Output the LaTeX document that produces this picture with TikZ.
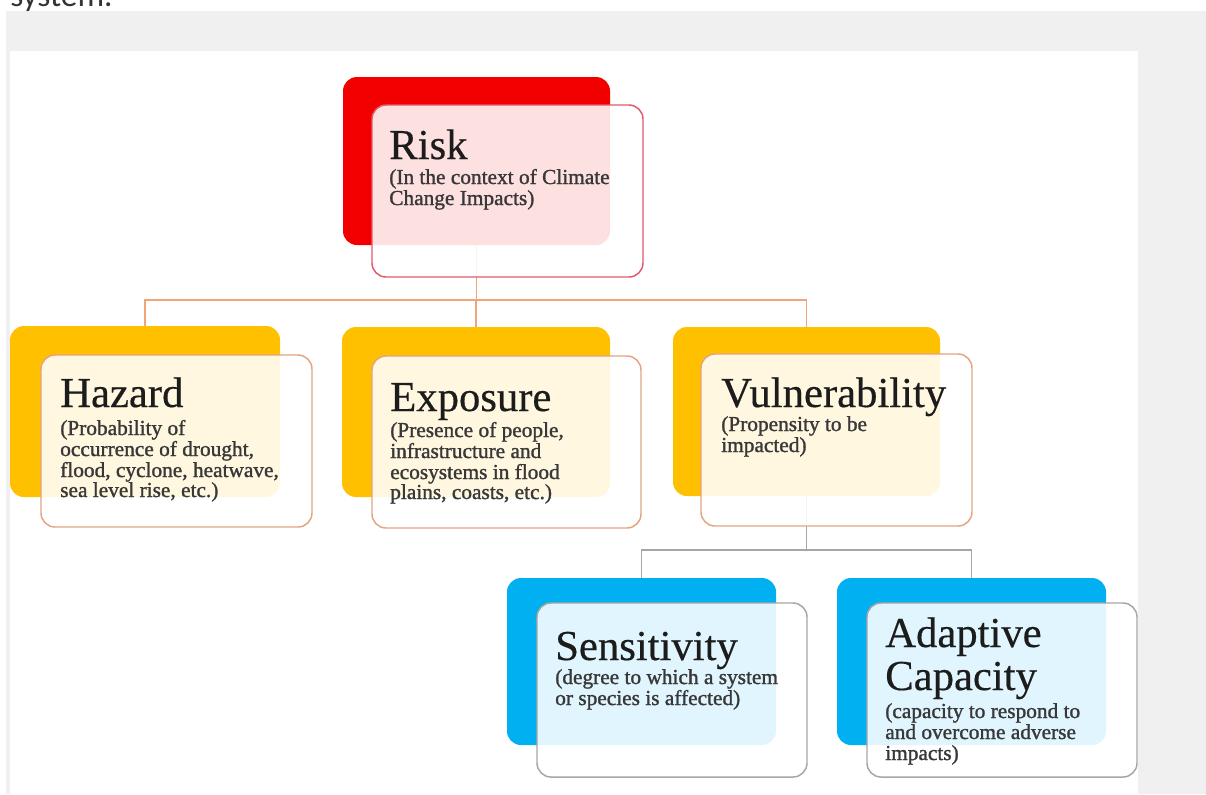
\documentclass[tikz,border=0pt]{standalone}
\usepackage{fontspec}
\setmainfont{Liberation Serif}
\newfontfamily\subfont[FakeBold=1.3]{Liberation Serif}
\newfontfamily\ttlfont[FakeBold=0.4]{Liberation Serif}
\newfontfamily\sysfont{Carlito}
\usetikzlibrary{fit}
\definecolor{riskred}{HTML}{F20000}
\definecolor{gold}{HTML}{FFC000}
\definecolor{skyblue}{HTML}{00B0F0}
\definecolor{riskedge}{HTML}{E05A6A}
\definecolor{goldedge}{HTML}{E3A47F}
\definecolor{grayedge}{HTML}{A6A6A6}
\definecolor{connorange}{HTML}{F0A478}
\definecolor{conngray}{HTML}{A6A6A6}
\definecolor{pagegray}{HTML}{F0F0F0}
\definecolor{titlecol}{HTML}{1C1C1C}
\definecolor{subcol}{HTML}{383838}
\tikzset{
  backbox/.style={inner sep=0pt, rounded corners=10.5pt, draw=none},
  frontbox/.style={inner sep=0pt, rounded corners=10.5pt, fill=white, fill opacity=0.88, line width=1.1pt},
  conn/.style={line width=1.2pt},
  ttl/.style={anchor=base west, inner sep=0pt, text=titlecol, font=\ttlfont\fontsize{32}{32}\selectfont},
  sub/.style={anchor=base west, inner sep=0pt, text=subcol, font=\subfont\fontsize{16}{16}\selectfont},
}
\begin{document}
\begin{tikzpicture}[x=0.75pt,y=-0.75pt]
\useasboundingbox (0,0) rectangle (1206,794);
\clip (0,0) rectangle (1206,794);
% page background
\node[anchor=base west, inner sep=0pt, text=black!80, font=\sysfont\fontsize{25}{25}\selectfont] (sys) at (10,6) {system.};
\fill[pagegray] (6,11) rectangle (1206,794);
\fill[white] (10,51) rectangle (1138,794);

% back boxes
\node[backbox, fill=riskred, fit={(343,77) (610,245)}] (riskB) {};
\node[backbox, fill=gold, fit={(10,326) (280,497)}] (hazB) {};
\node[backbox, fill=gold, fit={(342,327) (610,497)}] (expB) {};
\node[backbox, fill=gold, fit={(673,327) (940,496)}] (vulB) {};
\node[backbox, fill=skyblue, fit={(507,578) (776,745)}] (senB) {};
\node[backbox, fill=skyblue, fit={(837,578) (1106,745)}] (adaB) {};

% connectors
\draw[conn, connorange] (riskB.south) -- ++(0,55) coordinate (j1) -| (hazB.north);
\draw[conn, connorange] (j1) -| (expB.north);
\draw[conn, connorange] (j1) -| (vulB.north);
\draw[conn, conngray] (vulB.south) -- ++(0,54) coordinate (j2) -| (senB.north);
\draw[conn, conngray] (j2) -| (adaB.north);

% front boxes
\node[frontbox, draw=riskedge, fit={(372,105) (643,277)}] (riskF) {};
\node[frontbox, draw=goldedge, fit={(41,355) (312,527)}] (hazF) {};
\node[frontbox, draw=goldedge, fit={(372,356) (641,528)}] (expF) {};
\node[frontbox, draw=goldedge, fit={(701,354) (972,526)}] (vulF) {};
\node[frontbox, draw=grayedge, fit={(537,603) (807,777)}] (senF) {};
\node[frontbox, draw=grayedge, fit={(867,603) (1137,777)}] (adaF) {};

% texts
\node[ttl] (riskT) at (389,159) {Risk};
\node[sub] (riskS1) at (389,184) {(In the context of Climate};
\node[sub] (riskS2) at (389,205) {Change Impacts)};

\node[ttl] (hazT) at (60,407) {Hazard};
\node[sub] (hazS1) at (60,435) {(Probability of};
\node[sub] (hazS2) at (60,456) {occurrence of drought,};
\node[sub] (hazS3) at (60,477) {flood, cyclone, heatwave,};
\node[sub] (hazS4) at (60,497) {sea level rise, etc.)};

\node[ttl] (expT) at (390,411) {Exposure};
\node[sub] (expS1) at (390,437) {(Presence of people,};
\node[sub] (expS2) at (390,458) {infrastructure and};
\node[sub] (expS3) at (390,479) {ecosystems in flood};
\node[sub] (expS4) at (390,499) {plains, coasts, etc.)};

\node[ttl] (vulT) at (721,407) {Vulnerability};
\node[sub] (vulS1) at (721,431) {(Propensity to be};
\node[sub] (vulS2) at (721,452) {impacted)};

\node[ttl] (senT) at (555,660) {Sensitivity};
\node[sub] (senS1) at (555,684) {(degree to which a system};
\node[sub] (senS2) at (555,705) {or species is affected)};

\node[ttl] (adaT1) at (885,647) {Adaptive};
\node[ttl] (adaT2) at (885,690) {Capacity};
\node[sub] (adaS1) at (885,718) {(capacity to respond to};
\node[sub] (adaS2) at (885,739) {and overcome adverse};
\node[sub] (adaS3) at (885,760) {impacts)};
\end{tikzpicture}
\end{document}
